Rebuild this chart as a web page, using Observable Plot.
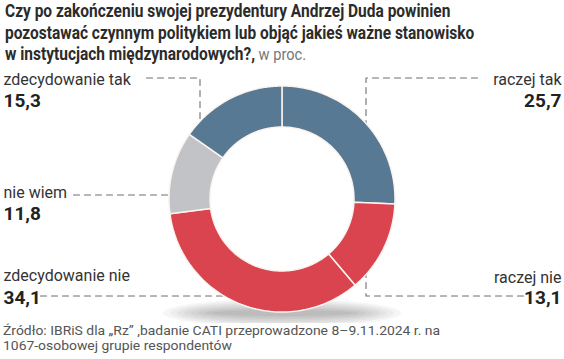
<!DOCTYPE html>
<html>
<head>
<meta charset="utf-8">
<script src="https://cdn.jsdelivr.net/npm/d3@7"></script>
<script src="https://cdn.jsdelivr.net/npm/@observablehq/plot@0.6"></script>
<style>
  html, body { margin: 0; padding: 0; background: #fff; }
  body { width: 564px; height: 359px; position: relative; overflow: hidden; font-family: Roboto, "Noto Sans", sans-serif; }
  #title { position: absolute; left: 5px; top: 0; font-size: 18px; font-weight: bold; line-height: 21.5px; color: #2b2b2b; white-space: nowrap; transform-origin: 0 0; transform: scaleX(0.86); }
  #title .unit { font-weight: normal; color: #777; font-size: 17px; }
  #chart { position: absolute; left: 0; top: 68px; }
  #caption { position: absolute; left: 3px; top: 323px; font-size: 13.5px; line-height: 14.5px; color: #555; white-space: nowrap; transform-origin: 0 0; transform: scaleX(1.03); }
</style>
</head>
<body>
<div id="title">Czy po zakończeniu swojej prezydentury Andrzej Duda powinien<br>pozostawać czynnym politykiem lub objąć jakieś ważne stanowisko<br>w instytucjach międzynarodowych?,<span class="unit"> w proc.</span></div>
<div id="chart"></div>
<div id="caption">Źródło: IBRiS dla „Rz” ,badanie CATI przeprowadzone 8–9.11.2024 r. na<br>1067-osobowej grupie respondentów</div>
<script>
// ---- data ----
const categories = ["raczej tak", "raczej nie", "zdecydowanie nie", "nie wiem", "zdecydowanie tak"];
const values = [25.7, 13.1, 34.1, 11.8, 15.3];
const valueLabels = ["25,7", "13,1", "34,1", "11,8", "15,3"];
const colors = ["#587993", "#d9444f", "#d9444f", "#c1c3c6", "#587993"];

// ---- layout (pixels in svg) ----
const W = 564, H = 255;
const CX = 282, CY = 131, R_OUT = 113, R_IN = 72;
const labelLayout = {
  "zdecydowanie tak": {x: 3, yName: 16, yValue: 38, anchor: "start", leader: [[146, 9.5], [199.5, 9.5], [199.5, 70]]},
  "raczej tak":       {x: 561, yName: 16, yValue: 38, anchor: "end", leader: [[477, 9.5], [365.5, 9.5], [365.5, 70]]},
  "nie wiem":         {x: 3, yName: 129, yValue: 151, anchor: "start", leader: [[73, 126.5], [180, 126.5]]},
  "zdecydowanie nie": {x: 3, yName: 212, yValue: 235, anchor: "start", leader: [[40, 227.5], [240, 227.5]]},
  "raczej nie":       {x: 561, yName: 214, yValue: 235, anchor: "end", leader: [[523, 227.5], [365.5, 227.5], [365.5, 200]]}
};

// ---- derived geometry ----
const arcs = d3.pie().sort(null).value(d => d.value)(categories.map((c, i) => ({category: c, value: values[i]})));
const ring = [];
for (const a of arcs) {
  const n = 80;
  for (let k = 0; k <= n; k++) {
    const t = a.startAngle + (a.endAngle - a.startAngle) * k / n;
    ring.push({
      category: a.data.category,
      x1: CX + R_OUT * Math.sin(t), y1: CY - R_OUT * Math.cos(t),
      x2: CX + R_IN * Math.sin(t), y2: CY - R_IN * Math.cos(t)
    });
  }
}
const leaders = [];
for (const c of categories) for (const [x, y] of labelLayout[c].leader) leaders.push({category: c, x, y});
const labels = categories.map((c, i) => ({category: c, value: valueLabels[i], ...labelLayout[c]}));
const labelsStart = labels.filter(d => d.anchor === "start");
const labelsEnd = labels.filter(d => d.anchor === "end");

// soft shadow under the ring: stacked translucent ellipses
const shadow = [];
for (let L = 0; L < 8; L++) {
  const rx = 70 + L * 7, ry = 3 + L * 1.6;
  for (let k = 0; k <= 60; k++) {
    const t = Math.PI * k / 60;
    shadow.push({layer: L, x: CX + rx * Math.cos(t), y1: CY + 114 - ry * Math.sin(t), y2: CY + 114 + ry * Math.sin(t)});
  }
}

const nameStyle = {x: "x", y: "yName", text: "category", lineAnchor: "bottom", fontSize: 16, fill: "#333"};
const valueStyle = {x: "x", y: "yValue", text: "value", lineAnchor: "bottom", fontSize: 19, fontWeight: "bold", fill: "#222"};

const plot = Plot.plot({
  width: W, height: H,
  margin: 0,
  x: {domain: [0, W], range: [0, W], axis: null},
  y: {domain: [0, H], range: [0, H], axis: null},
  color: {domain: categories, range: colors},
  style: {fontFamily: "Roboto, 'Noto Sans', sans-serif", background: "transparent"},
  marks: [
    Plot.area(shadow, {x1: "x", y1: "y1", x2: "x", y2: "y2", z: "layer", fill: "#000", fillOpacity: 0.035}),
    Plot.line(leaders, {x: "x", y: "y", z: "category", stroke: "#6f6f6f", strokeWidth: 1.1, strokeDasharray: "6,5"}),
    Plot.area(ring, {x1: "x1", y1: "y1", x2: "x2", y2: "y2", z: "category", fill: "category", stroke: "#fbf3ee", strokeWidth: 1.5}),
    Plot.text(labelsStart, {...nameStyle, textAnchor: "start"}),
    Plot.text(labelsEnd, {...nameStyle, textAnchor: "end"}),
    Plot.text(labelsStart, {...valueStyle, textAnchor: "start"}),
    Plot.text(labelsEnd, {...valueStyle, textAnchor: "end"})
  ]
});
document.getElementById("chart").appendChild(plot);
</script>
</body>
</html>
